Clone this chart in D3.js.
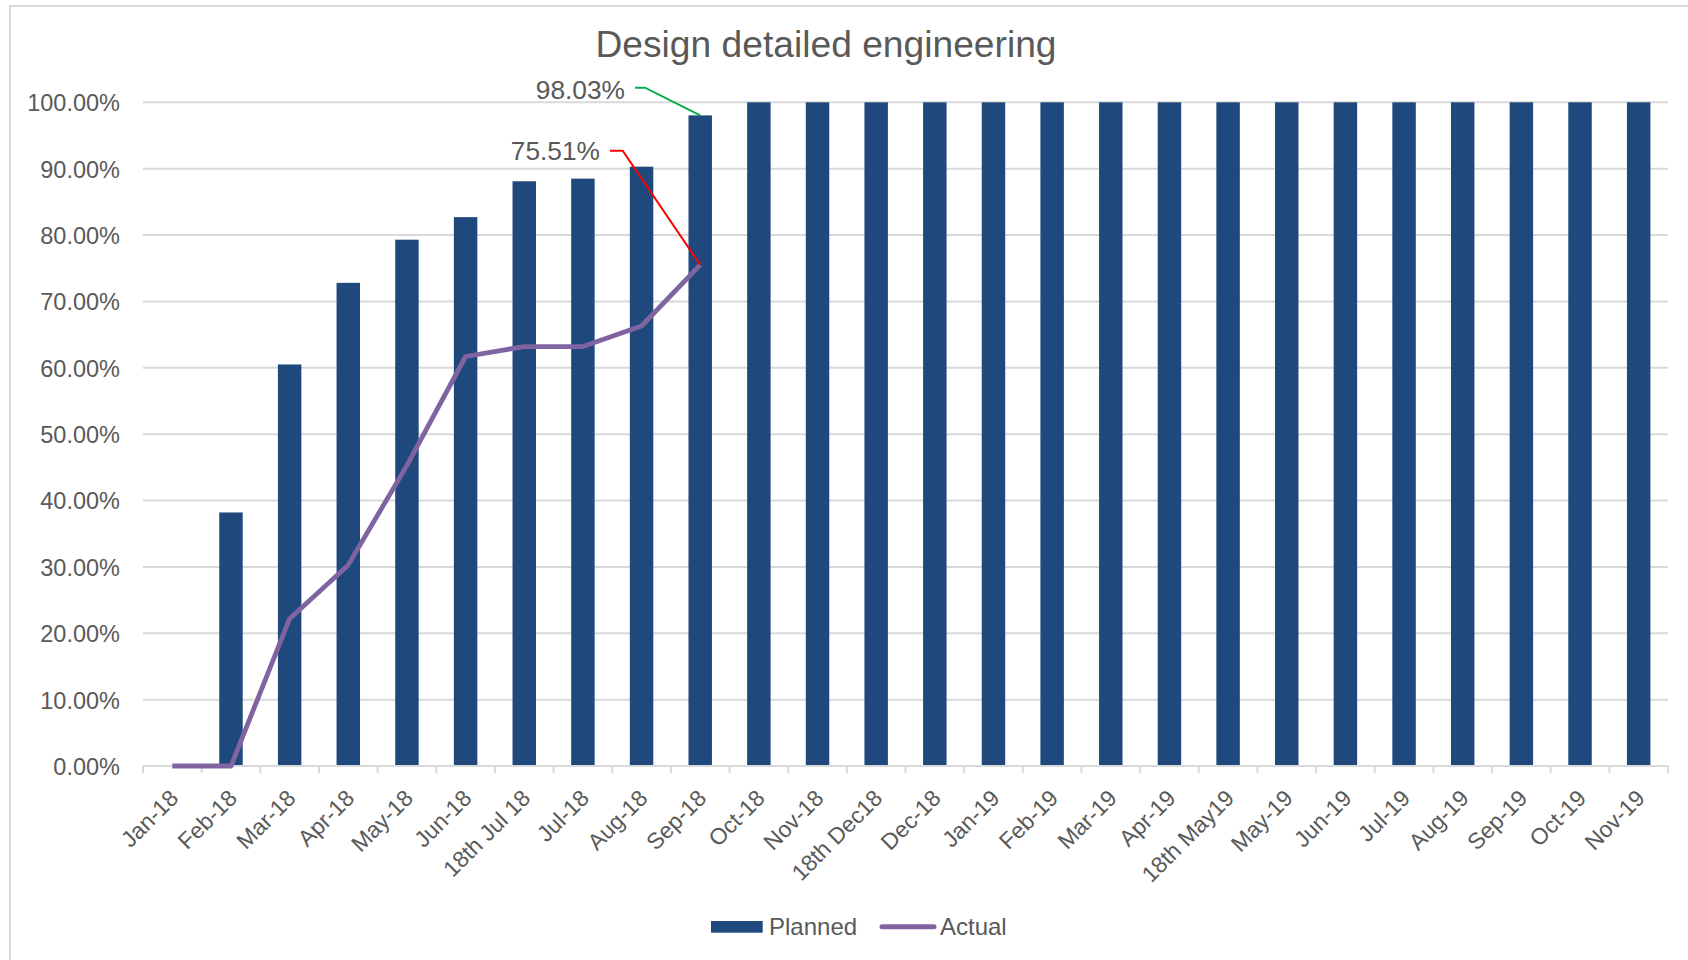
<!DOCTYPE html>
<html>
<head>
<meta charset="utf-8">
<script src="https://cdn.jsdelivr.net/npm/d3@7"></script>
<style>
  html, body { margin: 0; padding: 0; background: #fff; }
  text { font-family: "Liberation Sans", Arial, sans-serif; fill: #595959; }
</style>
</head>
<body>
<svg id="chart" width="1688" height="960"></svg>
<script>
// ---- data ----
const categories = ["Jan-18","Feb-18","Mar-18","Apr-18","May-18","Jun-18","18th Jul 18","Jul-18","Aug-18","Sep-18",
  "Oct-18","Nov-18","18th Dec18","Dec-18","Jan-19","Feb-19","Mar-19","Apr-19","18th May19","May-19",
  "Jun-19","Jul-19","Aug-19","Sep-19","Oct-19","Nov-19"];
const planned = [0, 0.382, 0.605, 0.728, 0.793, 0.827, 0.881, 0.885, 0.903, 0.9803,
  1, 1, 1, 1, 1, 1, 1, 1, 1, 1, 1, 1, 1, 1, 1, 1];
const actual = [0, 0, 0.222, 0.303, 0.453, 0.617, 0.632, 0.632, 0.663, 0.7551];
const yTicks = [0, 0.1, 0.2, 0.3, 0.4, 0.5, 0.6, 0.7, 0.8, 0.9, 1.0];
const seriesNames = ["Planned", "Actual"];
const titleText = "Design detailed engineering";

// ---- layout ----
const W = 1688, H = 960;
const plotL = 143, plotR = 1668, plotT = 102.3, plotB = 766;
const barColor = "#1F497D", lineColor = "#8064A2", gridColor = "#D9D9D9";

const svg = d3.select("#chart");
svg.append("rect").attr("width", W).attr("height", H).attr("fill", "#fff");
// chart border (left and top visible)
svg.append("path").attr("d", `M10,${H} V6 H${W}`).attr("fill", "none")
  .attr("stroke", gridColor).attr("stroke-width", 2);

const x = d3.scaleBand().domain(categories).range([plotL, plotR]).paddingInner(0.6).paddingOuter(0.3);
const y = d3.scaleLinear().domain([0, 1]).range([plotB, plotT]);
const cx = d => x(d) + x.bandwidth() / 2;

// gridlines
svg.append("g").selectAll("line").data(yTicks.slice(1)).join("line")
  .attr("x1", plotL).attr("x2", plotR)
  .attr("y1", d => y(d)).attr("y2", d => y(d))
  .attr("stroke", gridColor).attr("stroke-width", 2);

// y axis labels
const yAxis = d3.axisLeft(y).tickValues(yTicks).tickFormat(d3.format(".2%")).tickSize(0).tickPadding(0);
const yg = svg.append("g").attr("transform", `translate(120,0)`).call(yAxis);
yg.select(".domain").remove();
yg.selectAll("text").style("font-size", "23.5px").attr("fill", "#595959")
  .attr("font-family", "Liberation Sans, Arial, sans-serif").attr("dy", "0.36em");

// bars
svg.append("g").selectAll("rect").data(categories).join("rect")
  .attr("x", d => x(d)).attr("width", x.bandwidth())
  .attr("y", (d, i) => y(planned[i]))
  .attr("height", (d, i) => y(0) - y(planned[i]))
  .attr("fill", barColor);

// x axis line + ticks at category boundaries
svg.append("line").attr("x1", plotL).attr("x2", plotR).attr("y1", plotB).attr("y2", plotB)
  .attr("stroke", gridColor).attr("stroke-width", 2);
const boundaries = categories.map((d, i) => plotL + i * x.step());
boundaries.push(plotR);
svg.append("g").selectAll("line").data(boundaries).join("line")
  .attr("x1", d => d).attr("x2", d => d).attr("y1", plotB).attr("y2", plotB + 7)
  .attr("stroke", gridColor).attr("stroke-width", 2);

// x labels
svg.append("g").selectAll("text").data(categories).join("text")
  .attr("transform", d => `translate(${cx(d) - 4},${plotB + 22}) rotate(-45)`)
  .attr("text-anchor", "end").attr("dy", "0.71em")
  .style("font-size", "22.8px").text(d => d);

// actual line
const line = d3.line().x((d, i) => cx(categories[i])).y(d => y(d));
svg.append("path").datum(actual).attr("d", line).attr("fill", "none")
  .attr("stroke", lineColor).attr("stroke-width", 4.8)
  .attr("stroke-linejoin", "round").attr("stroke-linecap", "butt");

// annotations
const fmt = d3.format(".2%");
const lastIdx = actual.length - 1;
const annos = [
  { text: fmt(planned[lastIdx]), tx: 625, ty: 98.5, lx: 635, ly: 87.7, hx: 645,
    px: cx(categories[lastIdx]), py: y(planned[lastIdx]), color: "#00B050" },
  { text: fmt(actual[lastIdx]), tx: 600, ty: 160, lx: 610, ly: 150.7, hx: 622.7,
    px: cx(categories[lastIdx]), py: y(actual[lastIdx]), color: "#FF0000" }
];
annos.forEach(a => {
  svg.append("path").attr("d", `M${a.lx},${a.ly} H${a.hx} L${a.px},${a.py}`)
    .attr("fill", "none").attr("stroke", a.color).attr("stroke-width", 2);
  svg.append("text").attr("x", a.tx).attr("y", a.ty).attr("text-anchor", "end")
    .style("font-size", "26.3px").text(a.text);
});

// title
svg.append("text").attr("x", 826).attr("y", 57.3).attr("text-anchor", "middle")
  .style("font-size", "37.2px").text(titleText);

// legend
const lg = svg.append("g");
lg.append("rect").attr("x", 711).attr("y", 921).attr("width", 51.7).attr("height", 11.7).attr("fill", barColor);
lg.append("text").attr("x", 769).attr("y", 935).style("font-size", "24px").text(seriesNames[0]);
lg.append("line").attr("x1", 882).attr("x2", 934).attr("y1", 926.7).attr("y2", 926.7)
  .attr("stroke", lineColor).attr("stroke-width", 5).attr("stroke-linecap", "round");
lg.append("text").attr("x", 940).attr("y", 935).style("font-size", "24px").text(seriesNames[1]);
</script>
</body>
</html>
